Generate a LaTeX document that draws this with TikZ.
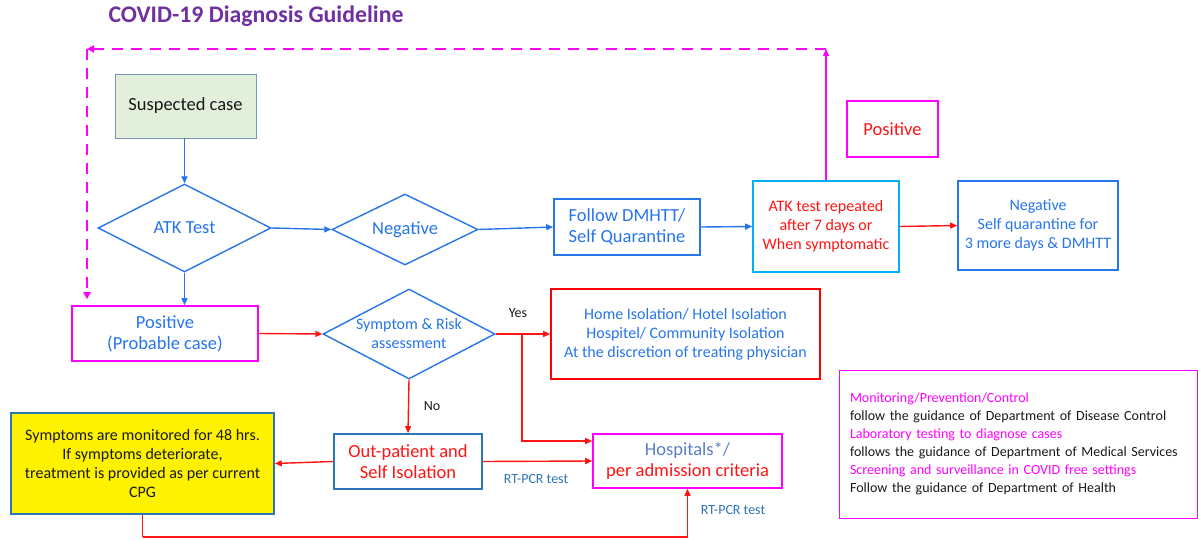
\documentclass[tikz,border=0pt]{standalone}
\usepackage{fontspec}
\setmainfont{Carlito}
\usetikzlibrary{shapes.geometric,arrows.meta}
\definecolor{flowblue}{RGB}{38,117,235}
\definecolor{skyblue}{RGB}{0,176,240}
\definecolor{steelblue}{RGB}{46,117,182}
\definecolor{slateblue}{RGB}{91,127,196}
\definecolor{titlepurple}{RGB}{112,48,160}
\definecolor{palegreen}{RGB}{226,239,218}
\definecolor{greyblue}{RGB}{124,150,194}
\definecolor{pink}{RGB}{255,0,255}
\definecolor{alarm}{RGB}{255,20,20}
\definecolor{ink}{RGB}{25,25,25}

\begin{document}
\begin{tikzpicture}[x=1pt,y=-1pt,
  box/.style={draw, line width=1.6pt, align=center, inner sep=0pt},
  dia/.style={draw=flowblue, line width=1.4pt, diamond, inner sep=0pt},
  link/.style={line width=1.4pt, -{Triangle[length=7pt,width=6pt]}},
  loopline/.style={pink, line width=2.6pt, dash pattern=on 11pt off 8pt, -{Triangle[length=7pt,width=7pt]}},
  big/.style={font=\fontsize{18.5}{21}\selectfont},
  mid/.style={font=\fontsize{16}{19}\selectfont},
  tiny/.style={font=\fontsize{14}{16}\selectfont}]
\useasboundingbox (0,0) rectangle (1198,540);
\node[anchor=west, text=titlepurple, font=\fontsize{23.8}{27}\selectfont\bfseries] (Title) at (105,16) {COVID-19 Diagnosis Guideline};
% top row
\node[box, big, draw=greyblue, line width=0.8pt, fill=palegreen, text=ink, minimum width=141pt, minimum height=64pt] (Suspect) at (185.5,106) {Suspected case};
\node[dia, minimum width=173pt, minimum height=88pt, label={[big, text=flowblue]center:ATK Test}] (ATK) at (184.5,228) {};
\node[dia, minimum width=146pt, minimum height=71pt, label={[big, text=flowblue]center:Negative}] (Neg) at (405,229.5) {};
\node[box, big, draw=flowblue, text=flowblue, minimum width=146pt, minimum height=56pt] (Follow) at (627,227) {Follow DMHTT/\\Self Quarantine};
\node[box, mid, draw=skyblue, text=alarm, minimum width=146pt, minimum height=91pt] (Repeat) at (826,226.5) {ATK test repeated\\after 7 days or\\When symptomatic};
\node[box, big, draw=pink, text=alarm, minimum width=91pt, minimum height=56pt] (PosTop) at (892.5,129) {Positive};
\node[box, mid, draw=flowblue, text=flowblue, minimum width=160pt, minimum height=89pt] (NegSelf) at (1038,225.5) {Negative\\Self quarantine for\\3 more days \& DMHTT};
% middle row
\node[box, big, draw=pink, text=flowblue, minimum width=186pt, minimum height=55pt] (Probable) at (165,333.5) {Positive\\(Probable case)};
\node[dia, minimum width=172pt, minimum height=90pt, label={[mid, text=flowblue, align=center]center:Symptom \& Risk\\assessment}] (Risk) at (409,334) {};
\node[box, mid, draw=red, text=flowblue, minimum width=269pt, minimum height=90pt] (Home) at (685.5,334) {Home Isolation/ Hotel Isolation\\Hospitel/ Community Isolation\\At the discretion of treating physician};
% bottom row
\node[box, big, draw=steelblue, text=alarm, minimum width=148pt, minimum height=55pt] (OutPat) at (408,461.5) {Out-patient and\\Self Isolation};
\node[box, mid, draw=steelblue, fill=yellow, text=ink, minimum width=263pt, minimum height=101pt] (Watch) at (142.5,463.5) {Symptoms are monitored for 48 hrs.\\If symptoms deteriorate,\\treatment is provided as per current\\CPG};
\node[box, big, draw=pink, text=alarm, minimum width=189pt, minimum height=54pt] (Hosp) at (687.5,461) {\textcolor{slateblue}{Hospitals*/}\\per admission criteria};
\node[draw=pink, line width=1pt, minimum width=358pt, minimum height=148pt, text width=336pt, inner xsep=11pt, align=left, text=ink, font=\fontsize{14}{18}\selectfont] (Info) at (1018,444) {\textcolor{pink}{Monitoring/Prevention/Control}\\follow the guidance of Department of Disease Control\\\textcolor{pink}{Laboratory testing to diagnose cases}\\follows the guidance of Department of Medical Services\\\textcolor{pink}{Screening and surveillance in COVID free settings}\\Follow the guidance of Department of Health};
% connectors
\coordinate (LoopL) at (87,49);
\coordinate (Split) at (522,334);
\coordinate (Base) at (145,537);
\draw[link, flowblue] (Suspect.south -| ATK) -- (ATK.north);
\draw[link, flowblue] (ATK.east) -- (Neg.west);
\draw[link, flowblue] (Neg.east) -- (Follow.west);
\draw[link, flowblue] (Follow.east) -- (Repeat.west);
\draw[link, alarm] (Repeat.east) -- (NegSelf.west);
\draw[link, pink] (Repeat.north) -- (Repeat.north |- LoopL);
\draw[loopline] (Repeat.north |- LoopL) -- (LoopL);
\draw[loopline] (LoopL) -- ([yshift=6pt]LoopL |- Probable.north);
\draw[link, flowblue] (ATK.south) -- (ATK.south |- Probable.north);
\draw[link, alarm] (Probable.east) -- (Risk.west);
\draw[link, alarm] (Risk.east) -- (Home.west);
\draw[link, alarm] (Split) |- ([yshift=20pt]Hosp.west);
\draw[link, alarm] (Risk.south) -- (OutPat.north);
\draw[link, alarm] (OutPat.west) -- (Watch.east);
\draw[link, alarm] (OutPat.east) -- (Hosp.west);
\draw[link, alarm] (Watch.south |- Base) |- (Base) -| (Hosp.south);
\draw[line width=1.4pt, alarm] (Watch.south) -- (Watch.south |- Base);
% labels
\node[tiny, text=ink] (Yes) at (518,313) {Yes};
\node[tiny, text=ink] (No) at (432,406) {No};
\node[tiny, text=steelblue] (Pcr1) at (536,479) {RT-PCR test};
\node[tiny, text=steelblue] (Pcr2) at (733,510) {RT-PCR test};
\end{tikzpicture}
\end{document}
